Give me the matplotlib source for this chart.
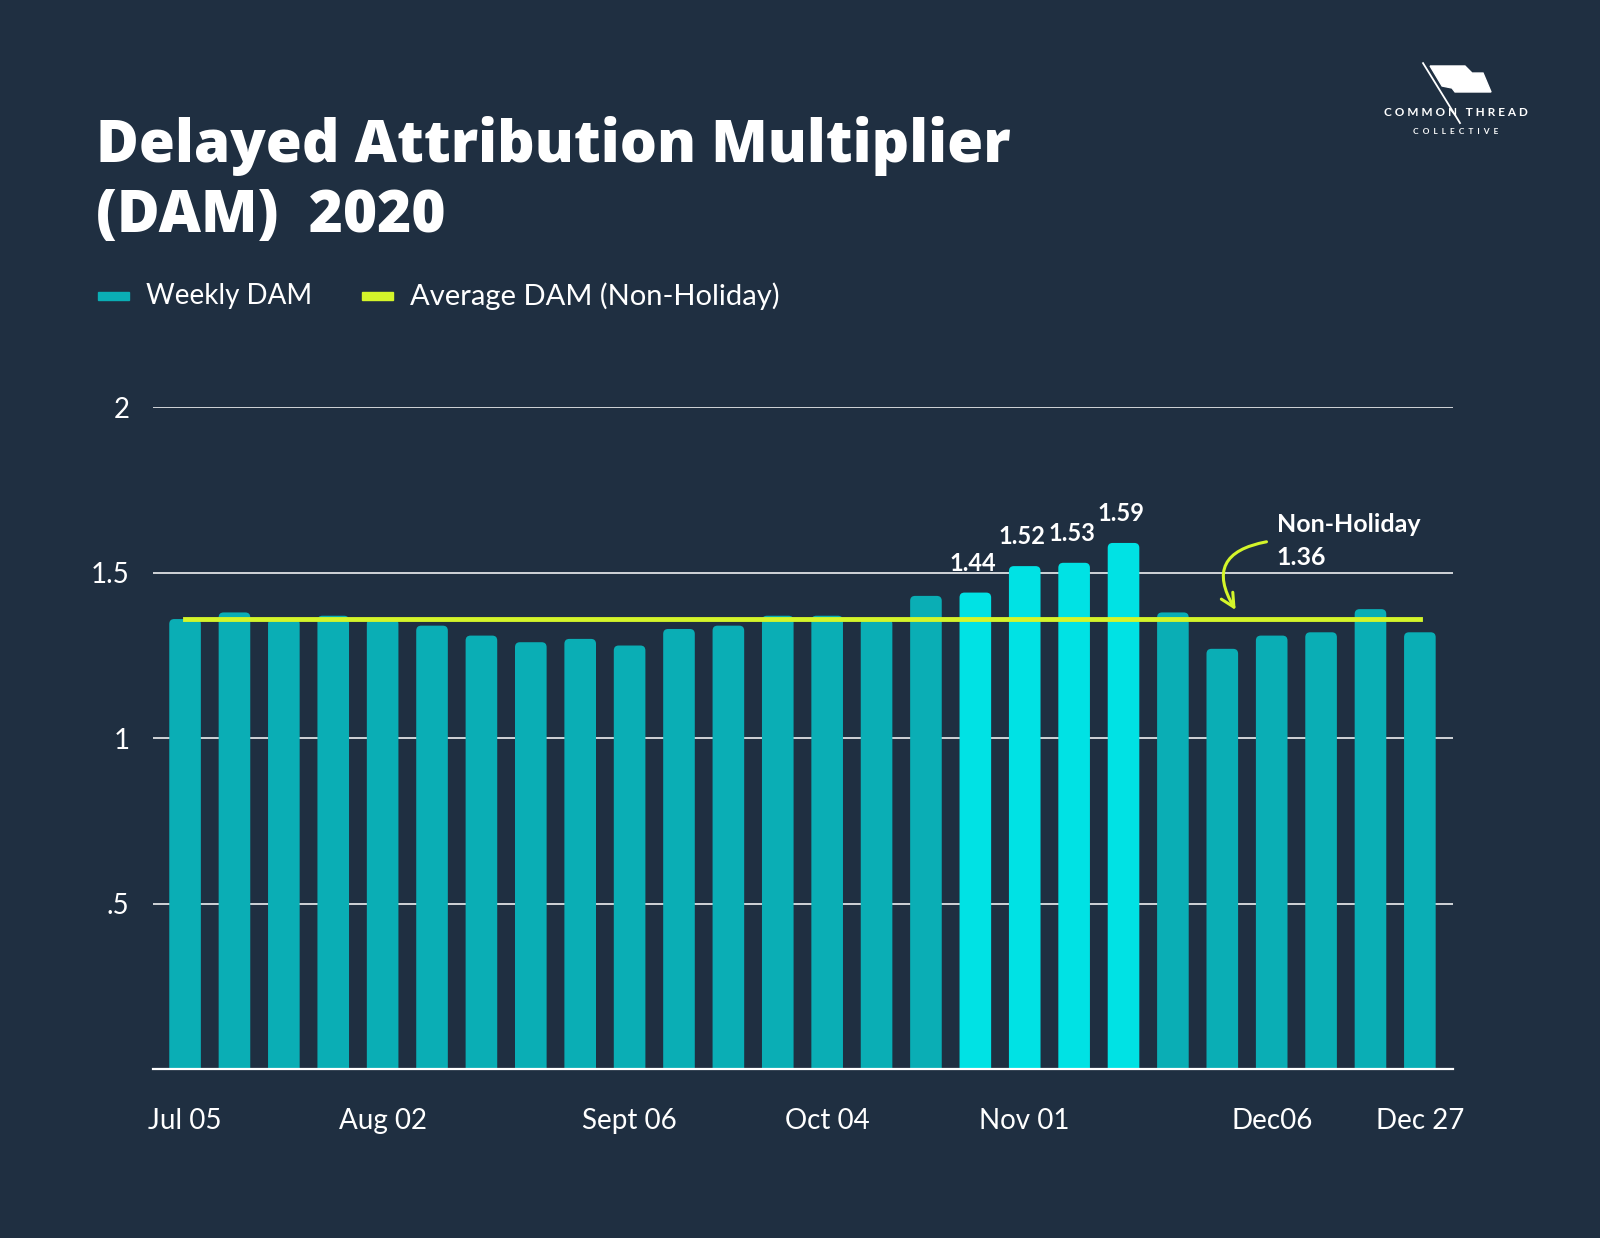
import matplotlib.pyplot as plt
import numpy as np
from matplotlib.patches import Polygon, FancyBboxPatch

# weekly DAM values
weeks = ['Jul 05', 'Jul 12', 'Jul 19', 'Jul 26', 'Aug 02', 'Aug 09', 'Aug 16', 'Aug 23', 'Aug 30',
         'Sept 06', 'Sep 13', 'Sep 20', 'Sep 27', 'Oct 04', 'Oct 11', 'Oct 18', 'Oct 25',
         'Nov 01', 'Nov 08', 'Nov 15', 'Nov 22', 'Nov 29', 'Dec06', 'Dec 13', 'Dec 20', 'Dec 27']
dam = [1.36, 1.38, 1.36, 1.37, 1.36, 1.34, 1.31, 1.29, 1.30, 1.28, 1.33, 1.34, 1.37,
       1.37, 1.36, 1.43, 1.44, 1.52, 1.53, 1.59, 1.38, 1.27, 1.31, 1.32, 1.39, 1.32]
holiday = [16, 17, 18, 19]
shown_ticks = ['Jul 05', 'Aug 02', 'Sept 06', 'Oct 04', 'Nov 01', 'Dec06', 'Dec 27']
avg_dam = 1.36

BG = '#1f2f41'
TEAL = '#0aaeb5'
CYAN = '#00e2e4'
LIME = '#d4f52a'
FONT = 'Lato'
TFONT = 'Open Sans'

fig = plt.figure(figsize=(16, 12.38), dpi=100, facecolor=BG)
ax = fig.add_axes([0.0956, 0.1365, 0.8125, 0.5345])
ax.set_facecolor(BG)

x = np.arange(len(dam))
colors = [CYAN if i in holiday else TEAL for i in x]
bars = ax.bar(x, dam, width=0.64, color=colors, zorder=2)
# swap plain rectangles for slightly rounded ones (bottoms hidden below y=0)
for b in bars:
    b.set_visible(False)
    fb = FancyBboxPatch((b.get_x(), -0.03), b.get_width(), b.get_height() + 0.03,
                        boxstyle='round,pad=0,rounding_size=0.1', mutation_aspect=0.15,
                        fc=b.get_facecolor(), ec='none', zorder=2)
    ax.add_patch(fb)
ax.plot([x[0], x[-1]], [avg_dam, avg_dam], color=LIME, lw=3.5, zorder=3)

# value labels on holiday weeks
for i in holiday:
    ax.text(x[i] - 0.05, dam[i] + 0.088, f'{dam[i]:.2f}', color='white',
            fontsize=17, fontweight='bold', family=FONT, ha='center', va='center')

ax.set_xlim(-0.65, 25.67)
ax.set_ylim(0, 2.0)
ax.set_yticks([0.5, 1, 1.5, 2])
ax.set_yticklabels(['.5', '1', '1.5', '2'])
ax.grid(axis='y', color='#d0d4d8', lw=1.4, zorder=0)
tick_pos = [weeks.index(t) for t in shown_ticks]
ax.set_xticks(tick_pos)
ax.set_xticklabels(shown_ticks)
ax.tick_params(length=0, colors='white', labelsize=20, pad=0)
ax.tick_params(axis='x', pad=28)
ax.tick_params(axis='y', pad=17)
for lbl in ax.get_xticklabels() + ax.get_yticklabels():
    lbl.set_family(FONT)
for s in ['top', 'right', 'left']:
    ax.spines[s].set_visible(False)
ax.spines['bottom'].set_color('white')
ax.spines['bottom'].set_linewidth(1.6)
ax.spines['bottom'].set_zorder(4)

# annotation
ax.text(22.1, 1.645, 'Non-Holiday', color='white', fontsize=18, fontweight='bold',
        family=FONT, ha='left', va='center')
ax.text(22.1, 1.545, '1.36', color='white', fontsize=18, fontweight='bold',
        family=FONT, ha='left', va='center')
ax.annotate('', xy=(21.3, 1.38), xytext=(21.95, 1.595),
            arrowprops=dict(arrowstyle='->', color=LIME, lw=2.2,
                            connectionstyle='arc3,rad=0.75', mutation_scale=24))

# title and legend
fig.text(0.06, 0.869, 'Delayed Attribution Multiplier', color='white', fontsize=42,
         fontweight='heavy', family=TFONT, va='baseline')
fig.text(0.06, 0.813, '(DAM)  2020', color='white', fontsize=42,
         fontweight='heavy', family=TFONT, va='baseline')
fig.patches.append(plt.Rectangle((0.061, 0.758), 0.0195, 0.006, color=TEAL,
                                 transform=fig.transFigure, figure=fig))
fig.text(0.091, 0.761, 'Weekly DAM', color='white', fontsize=20, family=FONT, va='center')
fig.patches.append(plt.Rectangle((0.226, 0.758), 0.0195, 0.006, color=LIME,
                                 transform=fig.transFigure, figure=fig))
fig.text(0.256, 0.761, 'Average DAM (Non-Holiday)', color='white', fontsize=21,
         family=FONT, va='center')

# logo
flag = Polygon([[0.8938, 0.9467], [0.9156, 0.9467], [0.920, 0.941], [0.9269, 0.941],
                [0.9319, 0.9257], [0.9094, 0.9257], [0.9075, 0.9289], [0.9013, 0.9305]],
               closed=True, color='white', transform=fig.transFigure)
fig.patches.append(flag)
fig.lines.append(plt.Line2D([0.8894, 0.9125], [0.949, 0.9006], color='white', lw=1.3,
                            transform=fig.transFigure))
fig.text(0.91, 0.9095, 'C O M M O N   T H R E A D', color='white', fontsize=8.5,
         fontweight='bold', family=FONT, ha='center', va='center')
fig.text(0.91, 0.894, 'C  O  L  L  E  C  T  I  V  E', color='white', fontsize=6,
         fontweight='bold', family=FONT, ha='center', va='center')

fig.savefig('out.png', dpi=100, facecolor=BG)
